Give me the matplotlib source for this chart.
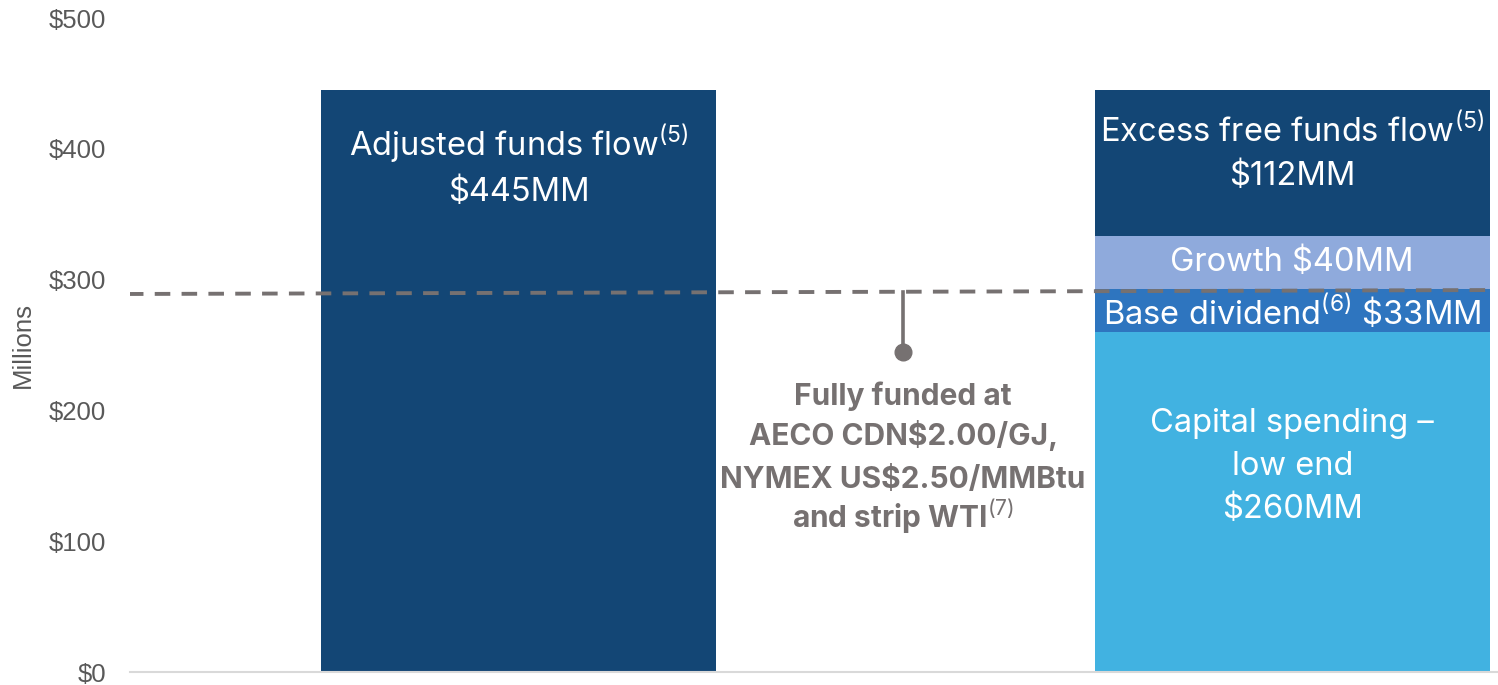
import matplotlib.pyplot as plt

plt.rcParams["mathtext.fontset"] = "custom"
plt.rcParams["mathtext.rm"] = "Inter"
plt.rcParams["mathtext.bf"] = "Inter:bold"

# --- data ---
categories = ["Adjusted funds flow", "Uses"]
afff_total = [445]
uses_labels = ["Capital spending", "Base dividend", "Growth", "Excess free funds flow"]
uses_values = [260, 33, 40, 112]
breakeven_start, breakeven_end = 289, 292   # dashed "fully funded" line
callout_dot = 245
y_ticks = [0, 100, 200, 300, 400, 500]
note_lines = ["Fully funded at", "AECO CDN\\$2.00/GJ,", "NYMEX US\\$2.50/MMBtu",
              "and strip WTI" + r"$^{\mathrm{(7)}}$"]
note_baselines = [204, 173.5, 140.7, 110]

navy = "#134675"
colors = ["#41B2E1", "#2E75BF", "#8FAADC", navy]
grey = "#595959"
note_grey = "#767171"
label_font = ["Inter", "DejaVu Sans"]

fig = plt.figure(figsize=(14.98, 6.85), dpi=100)
ax = fig.add_axes([130 / 1498, 13 / 685, 1368 / 1498, 654 / 685])

width = 0.511
ax.bar(0, afff_total[0], width=width, color=navy)
bottom = 0
for v, c in zip(uses_values, colors):
    ax.bar(1, v, width=width, bottom=bottom, color=c)
    bottom += v

# dashed line marking where costs are covered
ax.plot([-0.505, 1.25], [breakeven_start, breakeven_end], ls=(0, (4, 2.9)),
        color="#767171", lw=2.8, zorder=3)
ax.plot([0.497, 0.497], [callout_dot, breakeven_start + 1.5], color="#767171", lw=2.6, zorder=3)
ax.plot(0.497, callout_dot, "o", color="#767171", ms=12, zorder=4)

kw = dict(ha="center", va="center", color="white", fontsize=23.5, family=label_font)
sup = r"$^{\mathrm{(%d)}}$"
ax.text(0, 387, "Adjusted funds flow" + sup % 5 + "\n\\$445MM", linespacing=1.45, **kw)
ax.text(1, 397, "Excess free funds flow" + sup % 5 + "\n\\$112MM", linespacing=1.5, **kw)
ax.text(1, 313, "Growth $40MM", **kw)
ax.text(1, 274, "Base dividend" + sup % 6 + " \\$33MM", **kw)
ax.text(1, 157, "Capital spending –\nlow end\n$260MM", linespacing=1.5, **kw)

for line, yb in zip(note_lines, note_baselines):
    ax.text(0.497, yb, line, ha="center", va="baseline", color=note_grey,
            fontsize=21.5, fontweight="bold", family=label_font)

ax.set_xlim(-0.5023, 1.266)
ax.set_ylim(0, 500)
ax.set_yticks(y_ticks)
ax.set_yticklabels([f"${t}" for t in y_ticks], family="Liberation Sans", fontsize=18.5, color=grey)
ax.set_xticks([])
ax.tick_params(axis="y", length=0, pad=17)
for s in ["top", "right", "left"]:
    ax.spines[s].set_visible(False)
ax.spines["bottom"].set_color("#D9D9D9")
ax.spines["bottom"].set_linewidth(1.5)
ax.set_ylabel("Millions", family="Liberation Sans", fontsize=18.5, color=grey, labelpad=10)

fig.savefig("out.png", dpi=100)
